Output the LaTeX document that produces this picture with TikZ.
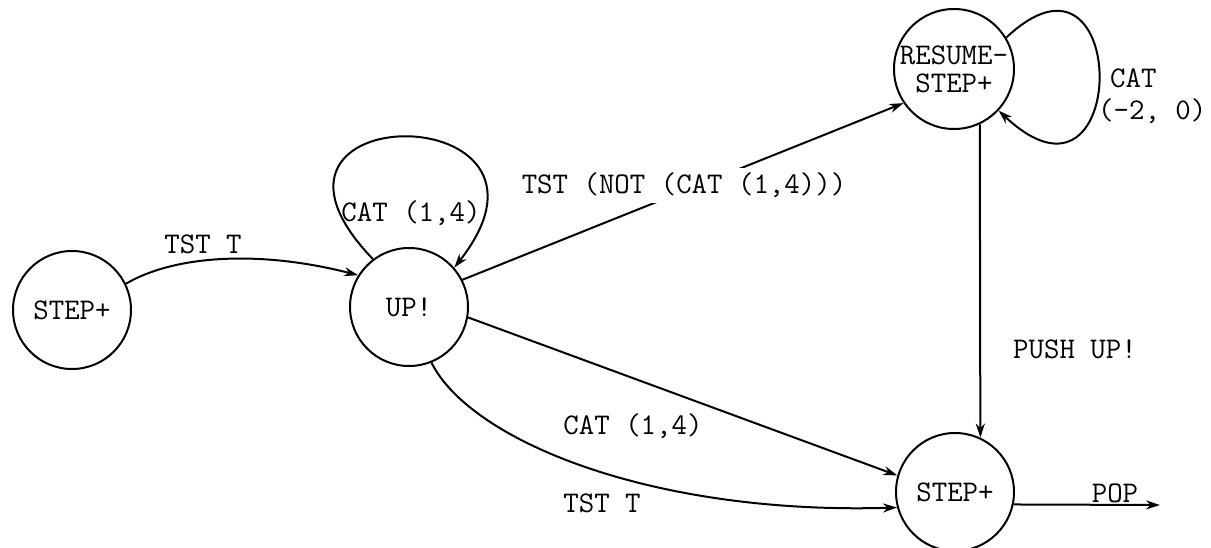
\documentclass[tikz,border=0pt]{standalone}
\usetikzlibrary{arrows.meta}
\begin{document}
\begin{tikzpicture}[x=1pt,y=-1pt,
  font=\fontsize{30}{32}\selectfont\ttfamily,
  state/.style={draw, circle, line width=2pt, minimum size=118pt, inner sep=0pt},
  edge/.style={line width=2pt, -{Stealth[length=14pt,width=9pt]}},
  lbl/.style={inner sep=0pt, anchor=base}]
\fill[white] (0,0) rectangle (1211,548);
\path[use as bounding box] (0,0) rectangle (1211,548);
% states
\node[state] (s1) at (72,310) {STEP+};
\node[state] (up) at (409,307) {UP!};
\node[state, minimum size=120pt, align=center, font=\fontsize{30}{28}\selectfont\ttfamily] (res) at (954,69) {RESUME-\\STEP+};
\node[state] (s2) at (955,492) {STEP+};
\coordinate (pop) at (1160,505);
% edges
\draw[edge] (s1.26) .. controls (175,255) and (260,250) .. (up.148);
\draw[edge] (up.127) .. controls (215,95) and (590,95) .. (up.41);
\draw[edge] (up.27) -- (res.214);
\draw[edge] (res.31) .. controls (1131,-80) and (1131,235) .. (res.-43);
\draw[edge] (res.-65) -- (s2.65);
\draw[edge] (up.-10) -- (s2.164);
\draw[edge] (up.-68) .. controls (470,440) and (650,515) .. (s2.195);
\draw[edge] (s2.-12) -- (pop);
% labels
\node[lbl] (l1) at (203,254) {TST T};
\node[lbl] (l2) at (411,222) {CAT (1,4)};
\node[lbl, fill=white, inner sep=5pt] (l3) at (684,194) {TST (NOT (CAT (1,4)))};
\node[inner sep=0pt, anchor=north west, align=left] (l4) at (1098,69) {\hspace*{12pt}CAT\\(-2, 0)};
\node[lbl] (l5) at (1075,359) {PUSH UP!};
\node[lbl] (l6) at (633,434) {CAT (1,4)};
\node[lbl] (l7) at (602,512) {TST T};
\node[lbl] (l8) at (1115,502) {POP};
\end{tikzpicture}
\end{document}
